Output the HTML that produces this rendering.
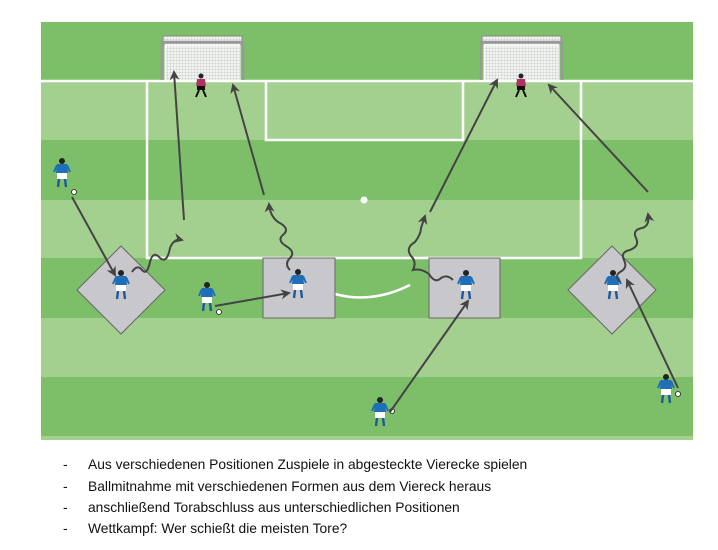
<!DOCTYPE html>
<html><head><meta charset="utf-8"><style>
body{margin:0;background:#fff;width:718px;height:550px;overflow:hidden;font-family:"Liberation Sans",sans-serif}
.t{position:absolute;left:0;font-size:13.8px;color:#111}
.t span{position:absolute;left:63px}
.t b{font-weight:normal;position:absolute;left:88px;white-space:nowrap}
</style></head><body>
<svg width="718" height="550" style="position:absolute;left:0;top:0">
<defs>
<marker id="a" markerWidth="10" markerHeight="10" refX="8" refY="5" orient="auto" markerUnits="userSpaceOnUse"><path d="M0,0 L10,5 L0,10 L3,5z" fill="#444"/></marker>
<pattern id="n" width="3" height="3" patternUnits="userSpaceOnUse"><rect width="3" height="3" fill="#f2f4f2"/><path d="M0,0H3M0,0V3" stroke="#aaa" stroke-width="0.5"/></pattern>
<g id="p">
<circle cx="0" cy="-12" r="3" fill="#222"/>
<path d="M-5,-9 L5,-9 L6,0 L-6,0z" fill="#1e6fb8"/>
<line x1="-5" y1="-8" x2="-8" y2="-1" stroke="#1e6fb8" stroke-width="2"/>
<line x1="5" y1="-8" x2="8" y2="-1" stroke="#1e6fb8" stroke-width="2"/>
<rect x="-5" y="0" width="10" height="6" fill="#fff"/>
<line x1="-3" y1="6" x2="-4" y2="14" stroke="#1e5a9a" stroke-width="2.4"/>
<line x1="3" y1="6" x2="4" y2="14" stroke="#1e5a9a" stroke-width="2.4"/>
</g>
<g id="k">
<circle cx="0" cy="-10" r="2.5" fill="#222"/>
<path d="M-4,-7 L4,-7 L5,0 L-5,0z" fill="#b03060"/>
<rect x="-4" y="0" width="8" height="4" fill="#111"/>
<line x1="-2" y1="4" x2="-5" y2="11" stroke="#111" stroke-width="2"/>
<line x1="2" y1="4" x2="5" y2="11" stroke="#111" stroke-width="2"/>
</g>
<g id="g">
<rect x="2" y="0" width="79" height="8" fill="url(#n)" stroke="#888" stroke-width="1"/>
<rect x="4" y="8" width="75" height="36" fill="url(#n)"/>
<path d="M1,44 V6 H82 V44" fill="none" stroke="#999" stroke-width="2.5"/>
<path d="M4,44 V9 H79 V44" fill="none" stroke="#fff" stroke-width="1"/>
</g>
</defs>
<rect x="41" y="22" width="652" height="418" fill="#7dbe69"/>
<rect x="41" y="82" width="652" height="58" fill="#a4d08f"/>
<rect x="41" y="200" width="652" height="58" fill="#a4d08f"/>
<rect x="41" y="318" width="652" height="59" fill="#a4d08f"/>
<rect x="41" y="436" width="652" height="4" fill="#a4d08f"/>
<g stroke="#fff" stroke-width="2.5" fill="none">
<line x1="41" y1="81" x2="693" y2="81"/>
<polyline points="147,81 147,258 581,258 581,81"/>
<polyline points="266,81 266,140 463,140 463,81"/>
<path d="M335,294 Q372,304 410,285"/>
</g>
<circle cx="364" cy="200" r="3.5" fill="#fff"/>
<use href="#g" x="161" y="36"/>
<use href="#g" x="480" y="36"/>
<g fill="#c8c8cc" stroke="#666" stroke-width="1">
<polygon points="121,246 165,290 121,334 77,290"/>
<rect x="263" y="258" width="72" height="60"/>
<rect x="429" y="258" width="71" height="60"/>
<polygon points="612,246 656,290 612,334 568,290"/>
</g>
<use href="#k" x="201" y="86"/>
<use href="#k" x="521" y="86"/>
<use href="#p" x="62" y="173"/>
<use href="#p" x="121" y="285"/>
<use href="#p" x="207" y="297"/>
<use href="#p" x="298" y="284"/>
<use href="#p" x="466" y="285"/>
<use href="#p" x="613" y="285"/>
<use href="#p" x="380" y="412"/>
<use href="#p" x="666" y="389"/>
<g fill="#fff" stroke="#222" stroke-width="0.8"><circle cx="74" cy="192" r="2.5"/><circle cx="219" cy="312" r="2.5"/><circle cx="392" cy="411" r="2.5"/><circle cx="678" cy="394" r="2.5"/></g>
<g stroke="#444" stroke-width="2" fill="none" marker-end="url(#a)">
<line x1="72" y1="197" x2="115" y2="275"/>
<line x1="184" y1="220" x2="174" y2="72"/>
<line x1="264" y1="195" x2="233" y2="85"/>
<line x1="215" y1="306" x2="289" y2="293"/>
<line x1="430" y1="212" x2="497" y2="80"/>
<line x1="390" y1="412" x2="468" y2="301"/>
<line x1="648" y1="192" x2="549" y2="85"/>
<line x1="678" y1="388" x2="627" y2="280"/>
<path d="M132,272 q5,-8 10,-2 q5,6 8,-8 q3,-12 10,-4 q7,6 10,-10 q4,-10 12,-8"/>
<path d="M290,270 q-6,-6 0,-12 q6,-6 -4,-12 q-10,-6 -2,-12 q6,-6 -6,-12 q-8,-6 -9,-18"/>
<path d="M453,280 q-6,-6 -12,-2 q-6,6 -12,-4 q-8,-6 -16,-4 q4,-8 -2,-14 q-6,-8 4,-14 q6,-8 6,-14 q2,-6 4,-12"/>
<path d="M620,282 q-6,-6 0,-10 q8,-4 4,-12 q-4,-8 6,-10 q10,-4 6,-12 q-4,-8 6,-10 q8,-2 6,-14"/>
</g>
</svg>
<div class="t" style="top:457px"><span>-</span><b>Aus verschiedenen Positionen Zuspiele in abgesteckte Vierecke spielen</b></div>
<div class="t" style="top:479px"><span>-</span><b>Ballmitnahme mit verschiedenen Formen aus dem Viereck heraus</b></div>
<div class="t" style="top:500px"><span>-</span><b>anschließend Torabschluss aus unterschiedlichen Positionen</b></div>
<div class="t" style="top:521px"><span>-</span><b>Wettkampf: Wer schießt die meisten Tore?</b></div>
</body></html>
